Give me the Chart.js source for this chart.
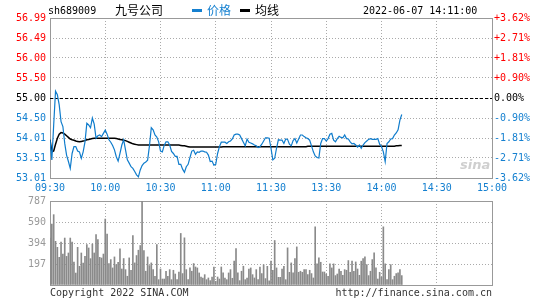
<!DOCTYPE html>
<html>
<head>
<meta charset="utf-8">
<script src="https://cdn.jsdelivr.net/npm/chart.js@4/dist/chart.umd.min.js"></script>
<style>
body { margin:0; background:#fff; width:545px; height:300px; position:relative; overflow:hidden; font-family:"DejaVu Sans Mono", monospace; font-size:10px; color:#000; }
canvas { position:absolute; left:0; }
#priceChart { top:0; }
#volChart { top:190px; }
.txt { position:absolute; white-space:nowrap; line-height:12px; }
.dash { position:absolute; width:10px; height:3px; }
</style>
</head>
<body>
<canvas id="priceChart" width="545" height="196"></canvas>
<canvas id="volChart" width="545" height="110"></canvas>

<div class="txt" style="left:48px;top:5px">sh689009</div>
<div class="txt" style="left:115px;top:3px;font-family:'Noto Sans CJK SC';font-size:12px;line-height:14px">九号公司</div>
<div class="dash" style="left:192px;top:9px;background:#1580d0"></div>
<div class="txt" style="left:207px;top:3px;font-family:'Noto Sans CJK SC';font-size:12px;line-height:14px;color:#1580d0">价格</div>
<div class="dash" style="left:240px;top:9px;background:#000"></div>
<div class="txt" style="left:255px;top:3px;font-family:'Noto Sans CJK SC';font-size:12px;line-height:14px">均线</div>
<div class="txt" style="left:363px;top:5px">2022-06-07 14:11:00</div>
<div class="txt" style="left:460px;top:158px;font-family:'DejaVu Sans';font-style:italic;font-weight:bold;font-size:13px;line-height:14px;color:#cfcfcf">sina</div>
<div class="txt" style="left:50px;top:287px;color:#333">Copyright 2022 SINA.COM</div>
<div class="txt" style="right:53px;top:287px;color:#333">http://finance.sina.com.cn</div>

<script>
// axis text
const timeLabels = ['09:30', '10:00', '10:30', '11:00', '11:30', '13:30', '14:00', '14:30', '15:00'];
const priceLabels = ['56.99', '56.49', '56.00', '55.50', '55.00', '54.50', '54.01', '53.51', '53.01'];
const pctLabels = ['+3.62%', '+2.71%', '+1.81%', '+0.90%', '0.00%', '-0.90%', '-1.81%', '-2.71%', '-3.62%'];
const volLabels = ['787', '590', '394', '197'];

const prevClose = 55.00;
const priceMin = 53.01;
const priceMax = 56.99;
const volMax = 787;
const sessionMinutes = 240;

// one value per minute from 09:30
const priceValues = [
    53.96, 53.46, 54.33, 55.17, 55.08, 54.83, 54.41, 54.29, 53.87, 53.58,
    53.42, 53.25, 53.62, 53.79, 53.79, 53.68, 53.66, 53.50, 53.66, 53.91,
    54.37, 54.33, 54.26, 54.50, 54.35, 54.00, 54.06, 54.08, 54.04, 54.12,
    54.20, 54.10, 53.96, 53.90, 53.82, 53.71, 53.54, 53.43, 53.62, 53.83,
    53.96, 53.71, 53.46, 53.38, 53.29, 53.25, 53.17, 53.09, 53.04, 53.21,
    53.32, 53.38, 53.41, 53.45, 53.81, 54.26, 54.21, 54.08, 54.03, 53.91,
    53.68, 53.66, 53.82, 53.91, 53.91, 53.83, 53.67, 53.62, 53.55, 53.55,
    53.35, 53.35, 53.23, 53.15, 53.29, 53.35, 53.52, 53.68, 53.70, 53.60,
    53.66, 53.65, 53.68, 53.68, 53.66, 53.65, 53.58, 53.42, 53.43, 53.33,
    53.35, 53.62, 53.79, 53.90, 53.90, 53.90, 53.87, 53.91, 53.93, 53.98,
    54.08, 54.10, 54.10, 54.08, 53.99, 53.90, 53.81, 53.98, 53.90, 53.88,
    53.86, 53.83, 53.81, 53.77, 53.79, 53.85, 53.93, 54.01, 54.01, 54.00,
    53.75, 53.46, 53.50, 53.75, 53.96, 53.95, 53.95, 53.87, 53.98, 53.97,
    53.85, 53.81, 53.94, 53.99, 53.88, 53.98, 54.08, 54.08, 54.04, 54.01,
    53.99, 53.95, 53.81, 53.66, 53.56, 53.52, 53.51, 53.87, 53.99, 53.99,
    53.93, 53.99, 54.10, 54.12, 53.95, 53.91, 53.99, 54.05, 54.02, 54.01,
    54.08, 53.99, 53.98, 53.91, 53.86, 53.87, 53.83, 53.78, 53.83, 53.75,
    53.83, 53.89, 53.93, 53.97, 53.99, 53.97, 53.97, 53.97, 53.99, 53.85,
    53.79, 53.66, 53.42, 53.87, 53.91, 53.98, 53.99, 54.08, 54.13, 54.21,
    54.45, 54.59
];

const avgValues = [
    53.96, 53.66, 53.68, 53.85, 54.00, 54.10, 54.14, 54.13, 54.10, 54.06,
    54.02, 53.98, 53.96, 53.95, 53.93, 53.92, 53.91, 53.92, 53.93, 53.94,
    53.96, 53.97, 53.98, 53.99, 54.00, 54.00, 54.00, 54.00, 54.00, 54.00,
    54.00, 54.00, 54.00, 54.00, 54.00, 54.00, 53.99, 53.98, 53.97, 53.96,
    53.95, 53.94, 53.92, 53.90, 53.88, 53.86, 53.85, 53.84, 53.83, 53.83,
    53.83, 53.83, 53.83, 53.83, 53.83, 53.83, 53.83, 53.83, 53.83, 53.83,
    53.83, 53.83, 53.83, 53.83, 53.83, 53.83, 53.83, 53.83, 53.83, 53.83,
    53.83, 53.82, 53.81, 53.81, 53.80, 53.79, 53.78, 53.78, 53.78, 53.78,
    53.78, 53.78, 53.78, 53.78, 53.78, 53.78, 53.78, 53.78, 53.78, 53.78,
    53.78, 53.78, 53.78, 53.78, 53.79, 53.79, 53.79, 53.79, 53.79, 53.79,
    53.79, 53.79, 53.79, 53.79, 53.79, 53.79, 53.79, 53.79, 53.79, 53.79,
    53.79, 53.79, 53.79, 53.79, 53.79, 53.79, 53.79, 53.79, 53.79, 53.79,
    53.79, 53.79, 53.79, 53.79, 53.79, 53.79, 53.79, 53.79, 53.79, 53.79,
    53.79, 53.79, 53.79, 53.79, 53.79, 53.79, 53.79, 53.79, 53.79, 53.79,
    53.80, 53.80, 53.80, 53.80, 53.80, 53.80, 53.80, 53.80, 53.80, 53.80,
    53.80, 53.80, 53.80, 53.80, 53.80, 53.80, 53.80, 53.80, 53.80, 53.80,
    53.80, 53.80, 53.80, 53.80, 53.80, 53.80, 53.80, 53.80, 53.80, 53.80,
    53.80, 53.80, 53.80, 53.80, 53.80, 53.80, 53.80, 53.80, 53.80, 53.80,
    53.80, 53.80, 53.80, 53.80, 53.80, 53.80, 53.80, 53.80, 53.81, 53.81,
    53.82, 53.82
];

const volValues = [
    440, 571, 659, 409, 353, 259, 403, 290, 440, 268,
    300, 440, 403, 215, 112, 353, 175, 300, 206, 268,
    378, 347, 247, 384, 300, 472, 425, 259, 253, 290,
    618, 478, 200, 238, 160, 263, 191, 213, 339, 150,
    248, 144, 82, 254, 138, 464, 207, 276, 326, 370,
    787, 323, 129, 263, 182, 207, 144, 82, 379, 50,
    150, 56, 56, 129, 82, 144, 50, 138, 103, 50,
    120, 483, 107, 442, 144, 50, 160, 129, 201, 169,
    160, 113, 75, 66, 97, 50, 66, 41, 75, 169,
    34, 75, 56, 169, 113, 66, 50, 113, 144, 63,
    223, 342, 113, 41, 129, 176, 50, 66, 150, 160,
    97, 66, 144, 50, 169, 107, 190, 60, 175, 40,
    223, 138, 417, 160, 72, 72, 150, 175, 50, 348,
    119, 207, 113, 248, 357, 119, 129, 119, 144, 144,
    97, 138, 107, 66, 545, 198, 254, 213, 122, 122,
    103, 82, 198, 160, 198, 88, 103, 150, 129, 91,
    144, 138, 229, 119, 223, 129, 216, 150, 91, 223,
    248, 263, 191, 88, 129, 238, 301, 160, 56, 119,
    75, 545, 198, 50, 144, 191, 50, 82, 107, 113,
    144, 88
];

const RED = '#ff0000';
const BLUE = '#1580d0';
const GRID = '#aaaaaa';
const FRAME = '#999999';

Chart.defaults.font.family = "'DejaVu Sans Mono', monospace";
Chart.defaults.font.size = 10;
Chart.defaults.animation = false;

const framePlugin = {
    id: 'frame',
    beforeDatasetsDraw(chart) {
        const a = chart.chartArea;
        const ctx = chart.ctx;
        ctx.save();
        ctx.strokeStyle = FRAME;
        ctx.lineWidth = 1;
        ctx.strokeRect(Math.round(a.left) + 0.5, Math.round(a.top) + 0.5,
            Math.round(a.right - a.left), Math.round(a.bottom - a.top));
        ctx.restore();
    }
};

// dashed previous close line, placed by the y scale
const prevClosePlugin = {
    id: 'prevClose',
    beforeDatasetsDraw(chart) {
        const y = Math.round(chart.scales.y.getPixelForValue(prevClose)) + 0.5;
        const a = chart.chartArea;
        const ctx = chart.ctx;
        ctx.save();
        ctx.strokeStyle = '#000';
        ctx.lineWidth = 1;
        ctx.setLineDash([3, 2]);
        ctx.beginPath();
        ctx.moveTo(a.left, y);
        ctx.lineTo(a.right, y);
        ctx.stroke();
        ctx.restore();
    }
};

function evenTicks(min, max, n) {
    const out = [];
    for (let k = 0; k <= n; k++) out.push({ value: min + (max - min) * k / n });
    return out;
}

function labelColor(ctx) {
    if (ctx.index > 4) return RED;
    if (ctx.index === 4) return '#000';
    return BLUE;
}

const timeAxis = (showLabels) => ({
    type: 'linear',
    min: 0,
    max: sessionMinutes,
    offset: false,
    afterFit: s => { s.height = showLabels ? 18 : 15; },
    grid: { color: GRID, lineWidth: 1, drawTicks: false, offset: false },
    border: { display: false, dash: [1, 2] },
    ticks: {
        display: showLabels,
        stepSize: 30,
        autoSkip: false,
        maxRotation: 0,
        padding: 4,
        color: BLUE,
        callback: v => timeLabels[v / 30]
    }
});

new Chart(document.getElementById('priceChart'), {
    type: 'line',
    data: {
        datasets: [
            {
                label: '价格',
                data: priceValues.map((v, i) => ({ x: i, y: v })),
                borderColor: '#0f7ccc',
                borderWidth: 1.2,
                pointRadius: 0,
                tension: 0,
                yAxisID: 'y'
            },
            {
                label: '均线',
                data: avgValues.map((v, i) => ({ x: i, y: v })),
                borderColor: '#000',
                borderWidth: 1.5,
                pointRadius: 0,
                tension: 0,
                yAxisID: 'y'
            }
        ]
    },
    options: {
        responsive: false,
        devicePixelRatio: 1,
        layout: { padding: { top: 18 } },
        plugins: { legend: { display: false }, tooltip: { enabled: false } },
        scales: {
            x: timeAxis(true),
            y: {
                position: 'left',
                min: priceMin,
                max: priceMax,
                afterBuildTicks: s => { s.ticks = evenTicks(priceMin, priceMax, 8); },
                afterFit: s => { s.width = 50; },
                grid: { color: GRID, lineWidth: 1, drawTicks: false },
                border: { display: false, dash: [1, 2] },
                ticks: {
                    padding: 4,
                    color: labelColor,
                    callback: (v, i) => priceLabels[8 - i]
                }
            },
            y2: {
                position: 'right',
                min: priceMin,
                max: priceMax,
                afterBuildTicks: s => { s.ticks = evenTicks(priceMin, priceMax, 8); },
                afterFit: s => { s.width = 53; },
                grid: { display: false, drawTicks: false },
                border: { display: false },
                ticks: {
                    padding: 2,
                    color: labelColor,
                    callback: (v, i) => pctLabels[8 - i]
                }
            }
        }
    },
    plugins: [framePlugin, prevClosePlugin]
});

new Chart(document.getElementById('volChart'), {
    type: 'bar',
    data: {
        datasets: [{
            label: '成交量',
            data: volValues.map((v, i) => ({ x: i, y: v })),
            backgroundColor: '#8a8a8a',
            borderWidth: 0,
            barThickness: 1
        }]
    },
    options: {
        responsive: false,
        devicePixelRatio: 1,
        layout: { padding: { top: 11, right: 53 } },
        plugins: { legend: { display: false }, tooltip: { enabled: false } },
        scales: {
            x: timeAxis(false),
            y: {
                min: 0,
                max: volMax,
                afterBuildTicks: s => { s.ticks = evenTicks(0, volMax, 4); },
                afterFit: s => { s.width = 50; },
                grid: { color: GRID, lineWidth: 1, drawTicks: false },
                border: { display: false, dash: [1, 2] },
                ticks: {
                    padding: 4,
                    color: '#999999',
                    callback: (v, i) => i === 0 ? '' : volLabels[4 - i]
                }
            }
        }
    },
    plugins: [framePlugin]
});
</script>
</body>
</html>
